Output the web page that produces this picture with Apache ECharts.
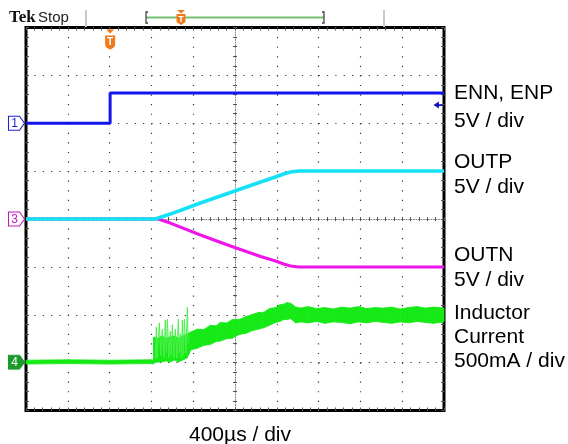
<!DOCTYPE html>
<html><head><meta charset="utf-8">
<script src="https://cdn.jsdelivr.net/npm/echarts@6/dist/echarts.min.js"></script>
<style>html,body{margin:0;padding:0;background:#fff}#c{width:568px;height:444px}</style>
</head><body><div id="c"></div>
<script>
// Axis ranges: time in µs relative to screen centre (400 µs/div), vertical in divisions
const timeMin = -2000, timeMax = 2000, timeDiv = 400;
const divMin = -4, divMax = 4;

// CH1: ENN, ENP (5 V/div)
const ch1T = [-2000, -1195, -1195, 2000];
const ch1V = [2.0, 2.0, 2.63, 2.63];
const ch1TrigLevel = 2.38;

// CH2: OUTP (5 V/div)
const outpT = [-2000, -763, -619, -331, -43, 245, 388, 465, 532, 609, 2000];
const outpV = [0, 0, 0.104, 0.334, 0.554, 0.773, 0.877, 0.940, 0.982, 1.003, 1.003];

// CH3: OUTN (5 V/div)
const outnT = [-2000, -735, -619, -331, -43, 245, 388, 465, 532, 609, 2000];
const outnV = [0, 0, -0.084, -0.334, -0.564, -0.783, -0.877, -0.940, -0.982, -1.003, -1.003];

// CH4: inductor current (500 mA/div) – envelope of the noisy trace
const ilT  = [-2000, -1600, -1200, -800, -780, -778, -740, -700, -660, -620, -580, -540, -500, -460, -440,
              -425, -360, -300, -235, -180, -140, -80, -25, 40, 100, 170, 230, 275, 330, 390, 430, 465, 500, 530, 560, 580,
              630, 700, 780, 860, 940, 1020, 1100, 1180, 1260, 1340, 1420, 1500, 1580, 1660, 1740, 1820, 1900, 2000];
const ilHi = [-2.95, -2.94, -2.95, -2.94, -2.95, -2.465, -2.486, -2.444, -2.486, -2.465, -2.444, -2.486, -2.444, -2.402, -2.381,
              -2.36, -2.30, -2.31, -2.22, -2.23, -2.16, -2.17, -2.10, -2.10, -2.04, -1.99, -1.95, -1.95, -1.87, -1.85, -1.79, -1.78, -1.745, -1.76, -1.80, -1.84,
              -1.86, -1.83, -1.87, -1.85, -1.88, -1.84, -1.86, -1.83, -1.87, -1.85, -1.86, -1.84, -1.88, -1.85, -1.83, -1.86, -1.84, -1.86];
const ilLo = [-3.03, -3.02, -3.03, -3.02, -3.03, -3.008, -2.987, -2.987, -2.966, -2.987, -2.945, -2.987, -2.945, -2.903, -2.82,
              -2.736, -2.70, -2.64, -2.62, -2.56, -2.55, -2.50, -2.49, -2.41, -2.39, -2.33, -2.30, -2.27, -2.22, -2.16, -2.14, -2.10, -2.10, -2.08, -2.13, -2.17,
              -2.15, -2.17, -2.14, -2.18, -2.15, -2.16, -2.19, -2.15, -2.17, -2.14, -2.16, -2.18, -2.15, -2.17, -2.14, -2.16, -2.18, -2.15];
const ilBase = -2.99;
// switching spikes at the start of the soft start
const spikeT = [-760, -753, -746, -724, -710, -695, -680, -667, -657, -647, -633, -619, -610, -600, -585, -571, -556, -542, -532, -523, -513, -504, -494, -484, -470, -456, -448];
const spikeV = [-2.90, -2.26, -2.90, -2.17, -2.85, -2.30, -2.90, -2.11, -2.80, -2.09, -2.90, -2.35, -2.85, -2.21, -2.90, -2.30, -2.90, -2.09, -2.80, -2.40, -2.90, -2.11, -2.85, -2.09, -2.80, -1.84, -2.60];

// Right-hand channel labels
const labelLines = ['ENN, ENP', '5V / div', 'OUTP', '5V / div', 'OUTN', '5V / div', 'Inductor', 'Current', '500mA / div'];
const labelY = [93, 121, 162, 187, 255, 280, 313, 337, 361];
const timeLabel = '400µs / div';

const BLUE = '#1414ee', CYAN = '#14e2f4', MAG = '#f014ec', GREEN = '#16ea16', ORANGE = '#f07a1c';
const FONT = '"Liberation Sans", Arial, sans-serif';

const zip = (a, b) => a.map((v, i) => [v, b[i]]);
const chanSym = 'path://M0,0 L11,0 L16,7 L11,14 L0,14 Z';

function chanMarker(coord, txt, col, filled) {
  return {
    coord: coord, symbol: chanSym, symbolSize: [16, 14], symbolOffset: [-9.5, 0],
    itemStyle: { color: filled ? col : '#fff', borderColor: col, borderWidth: 1 },
    label: { show: true, position: 'inside', formatter: txt, color: filled ? '#fff' : col, fontSize: 12, fontFamily: FONT, offset: [-2, 0.5] }
  };
}

const chart = echarts.init(document.getElementById('c'), null, { renderer: 'canvas' });

const dotted = (c, t) => ({ color: c, width: 1, type: t });
const baseX = { type: 'value', min: timeMin, max: timeMax, interval: timeDiv, axisLabel: { show: false }, splitLine: { show: false } };
const baseY = { type: 'value', min: divMin, max: divMax, interval: 1, axisLabel: { show: false }, splitLine: { show: false } };
const TK = '#555';

const option = {
  animation: false,
  backgroundColor: '#fff',
  grid: { left: 26, top: 27.5, width: 418, height: 383, show: true, borderColor: '#000', borderWidth: 3, backgroundColor: '#fff' },
  xAxis: [
    Object.assign({}, baseX, {
      position: 'bottom',
      axisLine: { show: true, onZero: true, lineStyle: dotted('#888', [1, 1.5]) },
      axisTick: { show: true, length: 2, lineStyle: { color: TK } },
      minorTick: { show: true, splitNumber: 5, length: 2, lineStyle: { color: TK } },
      splitLine: { show: true, lineStyle: { color: '#333', width: 1.2, type: [1.2, 8.37] } }
    }),
    Object.assign({}, baseX, {
      position: 'bottom', axisLine: { show: false, onZero: false },
      axisTick: { show: true, inside: true, length: 3, lineStyle: { color: TK } },
      minorTick: { show: true, splitNumber: 5, length: 3, lineStyle: { color: TK } }
    }),
    Object.assign({}, baseX, {
      position: 'top', axisLine: { show: false, onZero: false },
      axisTick: { show: true, inside: true, length: 3, lineStyle: { color: TK } },
      minorTick: { show: true, splitNumber: 5, length: 3, lineStyle: { color: TK } }
    }),
    Object.assign({}, baseX, {
      position: 'top', axisLine: { show: false, onZero: true, onZeroAxisIndex: 0 },
      axisTick: { show: true, length: 2, lineStyle: { color: TK } },
      minorTick: { show: true, splitNumber: 5, length: 2, lineStyle: { color: TK } }
    })
  ],
  yAxis: [
    Object.assign({}, baseY, {
      position: 'left',
      axisLine: { show: true, onZero: true, lineStyle: dotted('#888', [1, 1.5]) },
      axisTick: { show: true, length: 2, lineStyle: { color: TK } },
      minorTick: { show: true, splitNumber: 5, length: 2, lineStyle: { color: TK } },
      splitLine: { show: true, lineStyle: { color: '#333', width: 1.2, type: [1.2, 7.16] } }
    }),
    Object.assign({}, baseY, {
      position: 'left', axisLine: { show: false, onZero: false },
      axisTick: { show: true, inside: true, length: 3, lineStyle: { color: TK } },
      minorTick: { show: true, splitNumber: 5, length: 3, lineStyle: { color: TK } }
    }),
    Object.assign({}, baseY, {
      position: 'right', axisLine: { show: false, onZero: false },
      axisTick: { show: true, inside: true, length: 3, lineStyle: { color: TK } },
      minorTick: { show: true, splitNumber: 5, length: 3, lineStyle: { color: TK } }
    }),
    Object.assign({}, baseY, {
      position: 'right', axisLine: { show: false, onZero: true, onZeroAxisIndex: 0 },
      axisTick: { show: true, length: 2, lineStyle: { color: TK } },
      minorTick: { show: true, splitNumber: 5, length: 2, lineStyle: { color: TK } }
    })
  ],
  series: [
    {
      name: 'IL band', type: 'custom', xAxisIndex: 0, yAxisIndex: 0, silent: true,
      data: ilT.map((t, i) => [t, ilLo[i], ilHi[i]]),
      encode: { x: 0, y: [1, 2] },
      renderItem: function (params, api) {
        const i = params.dataIndex;
        if (i >= ilT.length - 1) return null;
        const pts = [api.coord([ilT[i], ilHi[i]]), api.coord([ilT[i + 1], ilHi[i + 1]]),
                     api.coord([ilT[i + 1], ilLo[i + 1]]), api.coord([ilT[i], ilLo[i]])];
        return { type: 'polygon', shape: { points: pts }, style: { fill: GREEN, stroke: GREEN, lineWidth: 0.8 } };
      }
    },
    {
      name: 'IL spikes', type: 'line', xAxisIndex: 0, yAxisIndex: 0, showSymbol: false, symbol: 'none', silent: true,
      data: zip(spikeT, spikeV), lineStyle: { color: '#4cf04c', width: 1 },
      markPoint: { silent: true, animation: false, data: [chanMarker([timeMin, ilBase], '4', '#1c9a2c', true)] }
    },
    {
      name: 'OUTN', type: 'line', showSymbol: false, symbol: 'none', silent: true,
      data: zip(outnT, outnV), lineStyle: { color: MAG, width: 3 },
      markPoint: { silent: true, animation: false, data: [chanMarker([timeMin, outnV[0]], '3', '#c018c0', false)] }
    },
    {
      name: 'OUTP', type: 'line', showSymbol: false, symbol: 'none', silent: true,
      data: zip(outpT, outpV), lineStyle: { color: CYAN, width: 3.5 }
    },
    {
      name: 'ENN, ENP', type: 'line', showSymbol: false, symbol: 'none', silent: true,
      data: zip(ch1T, ch1V), lineStyle: { color: BLUE, width: 3 },
      markPoint: {
        silent: true, animation: false,
        data: [
          chanMarker([timeMin, ch1V[0]], '1', '#2020d0', false),
          {
            coord: [ch1T[1], divMax], symbol: 'path://M1,0 L9,0 L5,4 Z M0,6 L10,6 L10,15 Q10,18 5,20 Q0,18 0,15 Z',
            symbolSize: [10, 20], symbolOffset: [0, 12], itemStyle: { color: ORANGE },
            label: { show: true, position: 'inside', formatter: 'T', color: '#fff', fontSize: 10, fontWeight: 'bold', fontFamily: FONT, offset: [0, 3] }
          },
          {
            coord: [ch1T[3], ch1TrigLevel], symbol: 'path://M0,4 L6,0 L6,3 L10,3 L10,5 L6,5 L6,8 Z',
            symbolSize: [9, 7], symbolOffset: [-6, 0], itemStyle: { color: '#1010c0' }, label: { show: false }
          }
        ]
      }
    }
  ],
  graphic: [
    { type: 'text', x: 9, y: 18, style: { text: 'Tek', font: 'bold 17px "Liberation Serif", serif', fill: '#111', verticalAlign: 'middle' } },
    { type: 'text', x: 38, y: 18, style: { text: 'Stop', font: '15px ' + FONT, fill: '#222', verticalAlign: 'middle' } },
    { type: 'line', shape: { x1: 86, y1: 10, x2: 86, y2: 27 }, style: { stroke: '#c8c8c8', lineWidth: 2 } },
    { type: 'line', shape: { x1: 384, y1: 10, x2: 384, y2: 27 }, style: { stroke: '#c8c8c8', lineWidth: 2 } },
    { type: 'line', shape: { x1: 146, y1: 17.5, x2: 324, y2: 17.5 }, style: { stroke: '#72c272', lineWidth: 2 } },
    { type: 'polyline', shape: { points: [[148, 12], [146, 12], [146, 23], [148, 23]] }, style: { stroke: '#444', lineWidth: 1.3, fill: null } },
    { type: 'polyline', shape: { points: [[322, 12], [324, 12], [324, 23], [322, 23]] }, style: { stroke: '#444', lineWidth: 1.3, fill: null } },
    { type: 'polygon', shape: { points: [[177, 10], [185, 10], [181, 13.5]] }, style: { fill: ORANGE } },
    { type: 'polygon', shape: { points: [[176.5, 14], [185.5, 14], [185.5, 22], [181, 25], [176.5, 22]] }, style: { fill: ORANGE } },
    { type: 'text', x: 181, y: 19.5, style: { text: 'T', font: 'bold 9px ' + FONT, fill: '#fff', align: 'center', verticalAlign: 'middle' } }
  ].concat(labelLines.map((t, i) => ({
    type: 'text', x: 454, y: labelY[i], style: { text: t, font: '21px ' + FONT, fill: '#000', verticalAlign: 'middle' }
  }))).concat([
    { type: 'text', x: 240, y: 435, style: { text: timeLabel, font: '21px ' + FONT, fill: '#000', align: 'center', verticalAlign: 'middle' } }
  ])
};
chart.setOption(option);
</script>
</body></html>
